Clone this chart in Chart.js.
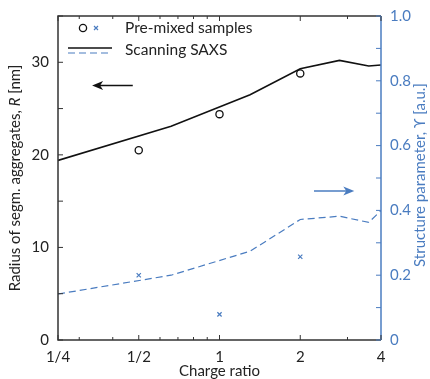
<!DOCTYPE html>
<html>
<head>
<meta charset="utf-8">
<script src="https://cdn.jsdelivr.net/npm/chart.js@4/dist/chart.umd.min.js"></script>
<style>
  html, body { margin: 0; padding: 0; background: #fff; }
  #wrap { width: 430px; height: 379px; }
</style>
</head>
<body>
<div id="wrap"><canvas id="chargeChart" width="430" height="379"></canvas></div>
<script>
// scanning SAXS curves
const scanRatio = [0.25, 0.66, 1.3, 2, 2.8, 3.6, 4];
const scanRadius = [19.4, 23.1, 26.5, 29.3, 30.2, 29.6, 29.7];
const scanStructure = [0.142, 0.2, 0.274, 0.372, 0.382, 0.363, 0.399];

// pre-mixed samples
const premixRatio = [0.5, 1, 2];
const premixRadius = [20.5, 24.4, 28.8];
const premixStructure = [0.2, 0.079, 0.257];

// ticks
const xTicks = [0.25, 0.3, 0.4, 0.5, 0.6, 0.7, 0.8, 0.9, 1, 2, 3, 4];
const xLabels = { 0.25: '1/4', 0.5: '1/2', 1: '1', 2: '2', 4: '4' };

// arrows: [x from, x to, y value]
const leftArrow = [0.475, 0.335, 27.5];
const rightArrow = [2.25, 3.18, 0.46];

const BLUE = '#4a7cc0';
const AXIS = '#333333';
const FONT = 'Lato, "Open Sans", sans-serif';

const pts = (xs, ys) => xs.map((x, i) => ({ x: x, y: ys[i] }));

function drawArrow(ctx, x1, x2, y, color) {
    const dir = Math.sign(x2 - x1);
    ctx.save();
    ctx.strokeStyle = color;
    ctx.fillStyle = color;
    ctx.lineWidth = 1.6;
    ctx.beginPath();
    ctx.moveTo(x1, y);
    ctx.lineTo(x2 - dir * 6, y);
    ctx.stroke();
    ctx.beginPath();
    ctx.moveTo(x2, y);
    ctx.lineTo(x2 - dir * 11, y - 4.5);
    ctx.lineTo(x2 - dir * 8, y);
    ctx.lineTo(x2 - dir * 11, y + 4.5);
    ctx.closePath();
    ctx.fill();
    ctx.restore();
}

const decorPlugin = {
    id: 'decor',
    afterDraw(chart) {
        const ctx = chart.ctx;
        const a = chart.chartArea;
        const sx = chart.scales.x, sy = chart.scales.y, sy2 = chart.scales.y2;

        ctx.save();
        // frame
        ctx.lineWidth = 1.5;
        ctx.strokeStyle = AXIS;
        ctx.beginPath();
        ctx.moveTo(a.right, a.top); ctx.lineTo(a.left, a.top);
        ctx.lineTo(a.left, a.bottom); ctx.lineTo(a.right, a.bottom);
        ctx.stroke();
        ctx.strokeStyle = BLUE;
        ctx.beginPath();
        ctx.moveTo(a.right, a.top); ctx.lineTo(a.right, a.bottom);
        ctx.stroke();

        // inward ticks
        ctx.lineWidth = 1;
        ctx.strokeStyle = AXIS;
        sx.ticks.forEach(t => {
            const px = sx.getPixelForValue(t.value);
            const len = xLabels[t.value] ? 5 : 3;
            ctx.beginPath();
            ctx.moveTo(px, a.bottom); ctx.lineTo(px, a.bottom - len);
            ctx.moveTo(px, a.top); ctx.lineTo(px, a.top + len);
            ctx.stroke();
        });
        sy.ticks.forEach(t => {
            const py = sy.getPixelForValue(t.value);
            ctx.beginPath();
            ctx.moveTo(a.left, py); ctx.lineTo(a.left + 5, py);
            ctx.stroke();
        });
        ctx.strokeStyle = BLUE;
        sy2.ticks.forEach(t => {
            const py = sy2.getPixelForValue(t.value);
            ctx.beginPath();
            ctx.moveTo(a.right, py); ctx.lineTo(a.right - 5, py);
            ctx.stroke();
        });

        // axis titles
        ctx.font = '15px ' + FONT;
        ctx.fillStyle = '#222';
        ctx.textAlign = 'center';
        ctx.textBaseline = 'middle';
        ctx.fillText('Charge ratio', (a.left + a.right) / 2, 371);

        const cy = (a.top + a.bottom) / 2;
        ctx.save();
        ctx.translate(15, cy);
        ctx.rotate(-Math.PI / 2);
        const p1 = 'Radius of segm. aggregates, ', p2 = 'R', p3 = ' [nm]';
        ctx.font = '15px ' + FONT;
        const w1 = ctx.measureText(p1).width, w3 = ctx.measureText(p3).width;
        ctx.font = 'italic 15px ' + FONT;
        const w2 = ctx.measureText(p2).width;
        let x0 = -(w1 + w2 + w3) / 2;
        ctx.textAlign = 'left';
        ctx.font = '15px ' + FONT;
        ctx.fillText(p1, x0, 0);
        ctx.font = 'italic 15px ' + FONT;
        ctx.fillText(p2, x0 + w1, 0);
        ctx.font = '15px ' + FONT;
        ctx.fillText(p3, x0 + w1 + w2, 0);
        ctx.restore();

        ctx.save();
        ctx.translate(420, cy - 3);
        ctx.rotate(-Math.PI / 2);
        ctx.fillStyle = BLUE;
        ctx.font = '15px ' + FONT;
        ctx.textAlign = 'center';
        ctx.fillText('Structure parameter, \u03D2 [a.u.]', 0, 0);
        ctx.restore();

        // legend
        ctx.lineWidth = 1.3;
        ctx.strokeStyle = '#111';
        ctx.beginPath();
        ctx.arc(83, 28, 3.6, 0, Math.PI * 2);
        ctx.stroke();
        ctx.strokeStyle = BLUE;
        ctx.lineWidth = 1.2;
        ctx.beginPath();
        ctx.moveTo(94, 26); ctx.lineTo(98, 30);
        ctx.moveTo(98, 26); ctx.lineTo(94, 30);
        ctx.stroke();
        ctx.strokeStyle = '#111';
        ctx.lineWidth = 1.6;
        ctx.beginPath();
        ctx.moveTo(68, 48); ctx.lineTo(112, 48);
        ctx.stroke();
        ctx.strokeStyle = BLUE;
        ctx.lineWidth = 1.2;
        ctx.setLineDash([7, 4]);
        ctx.beginPath();
        ctx.moveTo(68, 53); ctx.lineTo(112, 53);
        ctx.stroke();
        ctx.setLineDash([]);
        ctx.fillStyle = '#222';
        ctx.textAlign = 'left';
        ctx.font = '15.5px ' + FONT;
        ctx.fillText('Pre-mixed samples', 125, 28);
        ctx.fillText('Scanning SAXS', 125, 50);

        // arrows
        drawArrow(ctx, sx.getPixelForValue(leftArrow[0]), sx.getPixelForValue(leftArrow[1]),
            sy.getPixelForValue(leftArrow[2]), '#111');
        drawArrow(ctx, sx.getPixelForValue(rightArrow[0]), sx.getPixelForValue(rightArrow[1]),
            sy2.getPixelForValue(rightArrow[2]), BLUE);
        ctx.restore();
    }
};

const ctx = document.getElementById('chargeChart').getContext('2d');
new Chart(ctx, {
    type: 'line',
    data: {
        datasets: [
            {
                label: 'Scanning SAXS R',
                data: pts(scanRatio, scanRadius),
                yAxisID: 'y',
                borderColor: '#111',
                borderWidth: 1.6,
                pointRadius: 0,
                tension: 0
            },
            {
                label: 'Scanning SAXS structure',
                data: pts(scanRatio, scanStructure),
                yAxisID: 'y2',
                borderColor: BLUE,
                borderWidth: 1.2,
                borderDash: [7, 4],
                pointRadius: 0,
                tension: 0
            },
            {
                label: 'Pre-mixed R',
                data: pts(premixRatio, premixRadius),
                yAxisID: 'y',
                showLine: false,
                pointStyle: 'circle',
                pointRadius: 3.6,
                pointBorderWidth: 1.3,
                pointBorderColor: '#111',
                pointBackgroundColor: 'rgba(0,0,0,0)'
            },
            {
                label: 'Pre-mixed structure',
                data: pts(premixRatio, premixStructure),
                yAxisID: 'y2',
                showLine: false,
                pointStyle: 'crossRot',
                pointRadius: 3,
                pointBorderWidth: 1.2,
                pointBorderColor: BLUE
            }
        ]
    },
    options: {
        responsive: false,
        animation: false,
        layout: { padding: { top: 16, left: 0, right: 0, bottom: 0 } },
        plugins: { legend: { display: false }, tooltip: { enabled: false } },
        scales: {
            x: {
                type: 'logarithmic',
                min: 0.25,
                max: 4,
                afterBuildTicks: s => { s.ticks = xTicks.map(v => ({ value: v })); },
                afterFit: s => { s.height = 39; },
                grid: { display: false },
                border: { display: false },
                ticks: {
                    autoSkip: false,
                    maxRotation: 0,
                    padding: 0,
                    color: '#222',
                    font: { family: FONT, size: 15 },
                    callback: v => xLabels[v] || ''
                }
            },
            y: {
                position: 'left',
                min: 0,
                max: 35,
                afterFit: s => { s.width = 58; },
                grid: { display: false },
                border: { display: false },
                ticks: {
                    stepSize: 5,
                    padding: 1,
                    color: '#222',
                    font: { family: FONT, size: 15 },
                    callback: v => (v % 10 === 0 ? String(v) : '')
                }
            },
            y2: {
                position: 'right',
                min: 0,
                max: 1,
                afterFit: s => { s.width = 49; },
                grid: { display: false },
                border: { display: false },
                ticks: {
                    stepSize: 0.1,
                    padding: 1,
                    color: BLUE,
                    font: { family: FONT, size: 15 },
                    callback: v => {
                        const k = Math.round(v * 10);
                        if (k % 2) return '';
                        return k === 0 ? '0' : (k / 10).toFixed(1);
                    }
                }
            }
        }
    },
    plugins: [decorPlugin]
});
</script>
</body>
</html>
